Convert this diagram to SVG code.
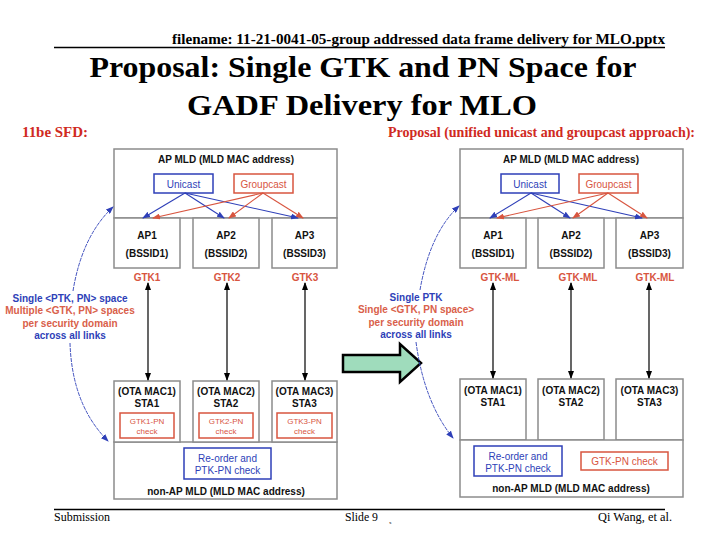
<svg xmlns="http://www.w3.org/2000/svg" width="720" height="540" viewBox="0 0 720 540">
<defs>
<style>
.serif{font-family:"Liberation Serif","Times New Roman",serif;fill:#000}
.sans{font-family:"Liberation Sans",Arial,sans-serif}
.box{fill:#fff;stroke:#8c8c8c;stroke-width:1.5}
.bl{fill:#2e3fb8}
.rd{fill:#d8553f}
.lr{fill:#d9604a}
.bk{fill:#111}
.b{font-weight:bold}
.hr{fill:#d02a22}
.ub{fill:#fff;stroke:#2e3fb8;stroke-width:1.5}
.rb{fill:#fff;stroke:#d8553f;stroke-width:1.5}
.bline{stroke:#2e3fb8;stroke-width:1.1;fill:none}
.rline{stroke:#d8553f;stroke-width:1.1;fill:none}
.kline{stroke:#000;stroke-width:1.2;fill:none}
.cline{stroke:#2e3fb8;stroke-width:0.9;fill:none;stroke-dasharray:4 1}
</style>
<marker id="mb" markerWidth="8" markerHeight="6" refX="7" refY="3" orient="auto" markerUnits="userSpaceOnUse"><path d="M0,0 L8,3 L0,6 z" fill="#2e3fb8"/></marker>
<marker id="mr" markerWidth="8" markerHeight="6" refX="7" refY="3" orient="auto" markerUnits="userSpaceOnUse"><path d="M0,0 L8,3 L0,6 z" fill="#d8553f"/></marker>
<marker id="mk" markerWidth="8" markerHeight="6" refX="7" refY="3" orient="auto-start-reverse" markerUnits="userSpaceOnUse"><path d="M0,0 L8,3 L0,6 z" fill="#000"/></marker>
</defs>
<rect width="720" height="540" fill="#fff"/>

<g id="header">
<text class="serif b" x="172" y="44" font-size="14" textLength="493" lengthAdjust="spacingAndGlyphs">filename:  11-21-0041-05-group addressed data frame delivery for MLO.pptx</text>
<line x1="54" y1="47.5" x2="665" y2="47.5" stroke="#000" stroke-width="1.6"/>
<text class="serif b" x="363" y="77" font-size="30" text-anchor="middle" textLength="547" lengthAdjust="spacingAndGlyphs">Proposal: Single GTK and PN Space for</text>
<text class="serif b" x="362" y="115" font-size="30" text-anchor="middle" textLength="350" lengthAdjust="spacingAndGlyphs">GADF Delivery for MLO</text>
<text class="serif b hr" x="22" y="137" font-size="14" textLength="66" lengthAdjust="spacingAndGlyphs">11be SFD:</text>
<text class="serif b hr" x="388" y="137" font-size="14" textLength="307" lengthAdjust="spacingAndGlyphs">Proposal (unified unicast and groupcast approach):</text>
</g>

<!-- LEFT DIAGRAM -->
<g id="left-apmld">
<rect class="box" x="114" y="149" width="223" height="69"/>
<text class="sans b bk" x="226" y="162.5" font-size="10" text-anchor="middle">AP MLD (MLD MAC address)</text>
</g>
<g id="left-unicast">
<rect class="ub" x="154" y="174" width="59" height="19"/>
<text class="sans bl" x="183.5" y="187.5" font-size="10" text-anchor="middle">Unicast</text>
</g>
<g id="left-groupcast">
<rect class="rb" x="234" y="174" width="59" height="19"/>
<text class="sans rd" x="263.5" y="187.5" font-size="10" text-anchor="middle">Groupcast</text>
</g>
<g id="left-ap1">
<rect class="box" x="114" y="218" width="66" height="50"/>
<text class="sans b bk" x="147" y="238.5" font-size="10" text-anchor="middle">AP1</text>
<text class="sans b bk" x="147" y="257" font-size="10" text-anchor="middle">(BSSID1)</text>
<text class="sans b rd" x="147" y="280.5" font-size="10" text-anchor="middle">GTK1</text>
</g>
<g id="left-ap2">
<rect class="box" x="193" y="218" width="66" height="50"/>
<text class="sans b bk" x="226" y="238.5" font-size="10" text-anchor="middle">AP2</text>
<text class="sans b bk" x="226" y="257" font-size="10" text-anchor="middle">(BSSID2)</text>
<text class="sans b rd" x="227" y="280.5" font-size="10" text-anchor="middle">GTK2</text>
</g>
<g id="left-ap3">
<rect class="box" x="272" y="218" width="65" height="50"/>
<text class="sans b bk" x="304.5" y="238.5" font-size="10" text-anchor="middle">AP3</text>
<text class="sans b bk" x="304.5" y="257" font-size="10" text-anchor="middle">(BSSID3)</text>
<text class="sans b rd" x="305" y="280.5" font-size="10" text-anchor="middle">GTK3</text>
</g>
<g id="left-nonap">
<rect class="box" x="114" y="442" width="223" height="57"/>
<text class="sans b bk" x="226" y="494.5" font-size="10" text-anchor="middle">non-AP MLD (MLD MAC address)</text>
</g>
<g id="left-reorder">
<rect class="ub" x="184" y="448" width="87" height="31"/>
<text class="sans bl" x="227.5" y="461.5" font-size="10" text-anchor="middle">Re-order and</text>
<text class="sans bl" x="227.5" y="473.5" font-size="10" text-anchor="middle">PTK-PN check</text>
</g>
<g id="left-sta1">
<rect class="box" x="114" y="381" width="66" height="61"/>
<text class="sans b bk" x="147" y="394.5" font-size="10" text-anchor="middle">(OTA MAC1)</text>
<text class="sans b bk" x="147" y="406.5" font-size="10" text-anchor="middle">STA1</text>
<rect class="rb" x="120" y="413" width="54" height="25"/>
<text class="sans rd" x="147" y="424" font-size="8" text-anchor="middle">GTK1-PN</text>
<text class="sans rd" x="147" y="434" font-size="8" text-anchor="middle">check</text>
</g>
<g id="left-sta2">
<rect class="box" x="193" y="381" width="66" height="61"/>
<text class="sans b bk" x="226" y="394.5" font-size="10" text-anchor="middle">(OTA MAC2)</text>
<text class="sans b bk" x="226" y="406.5" font-size="10" text-anchor="middle">STA2</text>
<rect class="rb" x="199" y="413" width="54" height="25"/>
<text class="sans rd" x="226" y="424" font-size="8" text-anchor="middle">GTK2-PN</text>
<text class="sans rd" x="226" y="434" font-size="8" text-anchor="middle">check</text>
</g>
<g id="left-sta3">
<rect class="box" x="272" y="381" width="65" height="61"/>
<text class="sans b bk" x="304.5" y="394.5" font-size="10" text-anchor="middle">(OTA MAC3)</text>
<text class="sans b bk" x="304.5" y="406.5" font-size="10" text-anchor="middle">STA3</text>
<rect class="rb" x="277" y="413" width="55" height="25"/>
<text class="sans rd" x="304.5" y="424" font-size="8" text-anchor="middle">GTK3-PN</text>
<text class="sans rd" x="304.5" y="434" font-size="8" text-anchor="middle">check</text>
</g>
<g id="left-note">
<text class="sans b bl" x="70" y="301.5" font-size="10" text-anchor="middle">Single &lt;PTK, PN&gt; space</text>
<text class="sans b lr" x="70" y="314" font-size="10" text-anchor="middle">Multiple &lt;GTK, PN&gt; spaces</text>
<text class="sans b lr" x="70" y="326.5" font-size="10" text-anchor="middle">per security domain</text>
<text class="sans b bl" x="70" y="338.5" font-size="10" text-anchor="middle">across all links</text>
</g>

<!-- RIGHT DIAGRAM -->
<g id="right-apmld">
<rect class="box" x="460" y="149" width="223" height="69"/>
<text class="sans b bk" x="571" y="162.5" font-size="10" text-anchor="middle">AP MLD (MLD MAC address)</text>
</g>
<g id="right-unicast">
<rect class="ub" x="501" y="174" width="58" height="19"/>
<text class="sans bl" x="530" y="187.5" font-size="10" text-anchor="middle">Unicast</text>
</g>
<g id="right-groupcast">
<rect class="rb" x="579" y="174" width="59" height="19"/>
<text class="sans rd" x="608.5" y="187.5" font-size="10" text-anchor="middle">Groupcast</text>
</g>
<g id="right-ap1">
<rect class="box" x="460" y="218" width="66" height="50"/>
<text class="sans b bk" x="493" y="238.5" font-size="10" text-anchor="middle">AP1</text>
<text class="sans b bk" x="493" y="257" font-size="10" text-anchor="middle">(BSSID1)</text>
<text class="sans b rd" x="500" y="280.5" font-size="10" text-anchor="middle">GTK-ML</text>
</g>
<g id="right-ap2">
<rect class="box" x="538" y="218" width="66" height="50"/>
<text class="sans b bk" x="571" y="238.5" font-size="10" text-anchor="middle">AP2</text>
<text class="sans b bk" x="571" y="257" font-size="10" text-anchor="middle">(BSSID2)</text>
<text class="sans b rd" x="578" y="280.5" font-size="10" text-anchor="middle">GTK-ML</text>
</g>
<g id="right-ap3">
<rect class="box" x="616" y="218" width="67" height="50"/>
<text class="sans b bk" x="649.5" y="238.5" font-size="10" text-anchor="middle">AP3</text>
<text class="sans b bk" x="649.5" y="257" font-size="10" text-anchor="middle">(BSSID3)</text>
<text class="sans b rd" x="655" y="280.5" font-size="10" text-anchor="middle">GTK-ML</text>
</g>
<g id="right-sta1">
<rect class="box" x="460" y="379" width="66" height="61"/>
<text class="sans b bk" x="493" y="393.5" font-size="10" text-anchor="middle">(OTA MAC1)</text>
<text class="sans b bk" x="493" y="405.5" font-size="10" text-anchor="middle">STA1</text>
</g>
<g id="right-sta2">
<rect class="box" x="538" y="379" width="66" height="61"/>
<text class="sans b bk" x="571" y="393.5" font-size="10" text-anchor="middle">(OTA MAC2)</text>
<text class="sans b bk" x="571" y="405.5" font-size="10" text-anchor="middle">STA2</text>
</g>
<g id="right-sta3">
<rect class="box" x="616" y="379" width="67" height="61"/>
<text class="sans b bk" x="649.5" y="393.5" font-size="10" text-anchor="middle">(OTA MAC3)</text>
<text class="sans b bk" x="649.5" y="405.5" font-size="10" text-anchor="middle">STA3</text>
</g>
<g id="right-nonap">
<rect class="box" x="460" y="440" width="223" height="57"/>
<text class="sans b bk" x="571" y="491.5" font-size="10" text-anchor="middle">non-AP MLD (MLD MAC address)</text>
</g>
<g id="right-reorder">
<rect class="ub" x="474" y="446" width="88" height="30"/>
<text class="sans bl" x="518" y="459.5" font-size="10" text-anchor="middle">Re-order and</text>
<text class="sans bl" x="518" y="471.5" font-size="10" text-anchor="middle">PTK-PN check</text>
</g>
<g id="right-gtkpn">
<rect class="rb" x="581" y="452" width="87" height="18"/>
<text class="sans rd" x="624.5" y="464.5" font-size="10" text-anchor="middle">GTK-PN check</text>
</g>
<g id="right-note">
<text class="sans b bl" x="416" y="300.5" font-size="10" text-anchor="middle">Single PTK</text>
<text class="sans b lr" x="416" y="313" font-size="10" text-anchor="middle">Single &lt;GTK, PN space&gt;</text>
<text class="sans b lr" x="416" y="325.5" font-size="10" text-anchor="middle">per security domain</text>
<text class="sans b bl" x="416" y="337.5" font-size="10" text-anchor="middle">across all links</text>
</g>

<g id="transition-arrow">
<polygon points="343,355 400,355 400,344 421,363 400,382 400,372 343,372" fill="#9fdcbc" stroke="#000" stroke-width="2.5" stroke-linejoin="miter"/>
</g>

<g id="connectors">
<line class="bline" x1="185" y1="193" x2="143" y2="218" marker-end="url(#mb)"/>
<line class="bline" x1="185" y1="193" x2="224" y2="218" marker-end="url(#mb)"/>
<line class="bline" x1="185" y1="193" x2="298" y2="218" marker-end="url(#mb)"/>
<line class="rline" x1="263" y1="193" x2="153" y2="218" marker-end="url(#mr)"/>
<line class="rline" x1="263" y1="193" x2="229" y2="218" marker-end="url(#mr)"/>
<line class="rline" x1="263" y1="193" x2="303" y2="218" marker-end="url(#mr)"/>
<line class="kline" x1="148" y1="283" x2="148" y2="380" marker-start="url(#mk)" marker-end="url(#mk)"/>
<line class="kline" x1="227" y1="283" x2="227" y2="380" marker-start="url(#mk)" marker-end="url(#mk)"/>
<line class="kline" x1="305" y1="283" x2="305" y2="380" marker-start="url(#mk)" marker-end="url(#mk)"/>
<path class="cline" d="M73,291 Q82,236 113,207" marker-end="url(#mb)"/>
<path class="cline" d="M70,343 Q72,405 108,441" marker-end="url(#mb)"/>
<line class="bline" x1="531" y1="193" x2="490" y2="218" marker-end="url(#mb)"/>
<line class="bline" x1="531" y1="193" x2="570" y2="218" marker-end="url(#mb)"/>
<line class="bline" x1="531" y1="193" x2="642" y2="218" marker-end="url(#mb)"/>
<line class="rline" x1="608" y1="193" x2="497" y2="218" marker-end="url(#mr)"/>
<line class="rline" x1="608" y1="193" x2="573" y2="218" marker-end="url(#mr)"/>
<line class="rline" x1="608" y1="193" x2="647" y2="218" marker-end="url(#mr)"/>
<line class="kline" x1="493" y1="283" x2="493" y2="378" marker-start="url(#mk)" marker-end="url(#mk)"/>
<line class="kline" x1="571" y1="283" x2="571" y2="378" marker-start="url(#mk)" marker-end="url(#mk)"/>
<line class="kline" x1="649" y1="283" x2="649" y2="378" marker-start="url(#mk)" marker-end="url(#mk)"/>
<path class="cline" d="M420,290 Q430,233 459,206" marker-end="url(#mb)"/>
<path class="cline" d="M416,342 Q424,402 453,438" marker-end="url(#mb)"/>
</g>

<g id="footer">
<line x1="54" y1="509.5" x2="665" y2="509.5" stroke="#000" stroke-width="1.6"/>
<text class="serif" x="54" y="521" font-size="12" textLength="56" lengthAdjust="spacingAndGlyphs">Submission</text>
<text class="serif" x="345" y="521" font-size="12" textLength="33" lengthAdjust="spacingAndGlyphs">Slide 9</text>
<text class="serif" x="389" y="524" font-size="5">x</text>
<text class="serif" x="672" y="521" font-size="12" text-anchor="end" textLength="74" lengthAdjust="spacingAndGlyphs">Qi Wang, et al.</text>
</g>
</svg>
